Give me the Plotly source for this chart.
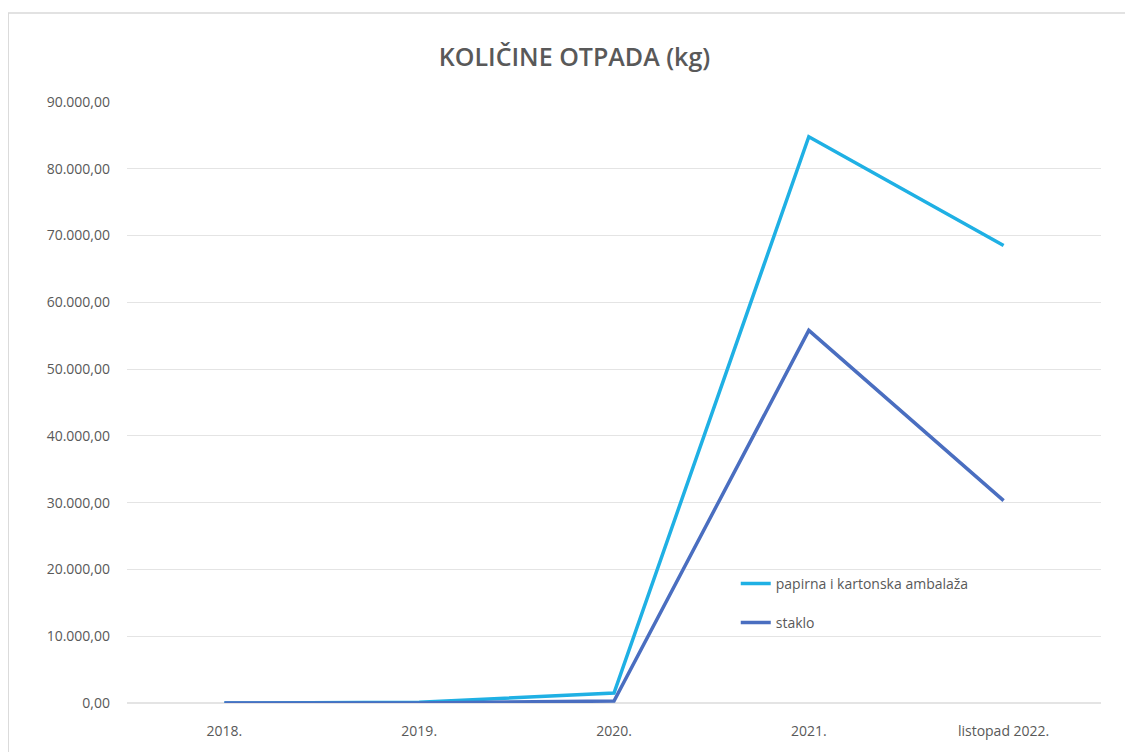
import plotly.graph_objects as go

categories = ["2018.", "2019.", "2020.", "2021.", "listopad 2022."]
papir = [0, 100, 1500, 84800, 68500]
staklo = [0, 0, 300, 55800, 30300]
y_ticks = [0, 10000, 20000, 30000, 40000, 50000, 60000, 70000, 80000, 90000]

fig = go.Figure()
fig.add_trace(go.Scatter(x=categories, y=papir, mode="lines", name="papirna i kartonska ambalaža",
                         line=dict(color="#1fb0e4", width=3.5), legendgroup="a"))
fig.add_trace(go.Scatter(x=categories, y=staklo, mode="lines", name="staklo",
                         line=dict(color="#4a6ec0", width=3.5), legendgroup="b"))

fig.update_layout(
    width=1133, height=752,
    margin=dict(l=119, r=40, t=94, b=57),
    paper_bgcolor="white", plot_bgcolor="white",
    separators=",.",
    title=dict(text="KOLIČINE OTPADA (kg)", x=0.5, xanchor="center", y=0.935, yanchor="middle",
               font=dict(family="Open Sans", size=25, color="#595959", weight=600)),
    font=dict(family="Open Sans", color="#595959"),
    xaxis=dict(type="category", range=[-0.5, 4.5], showgrid=False, showline=False, ticks="",
               tickfont=dict(size=14, color="#595959"), ticklabelstandoff=18),
    yaxis=dict(range=[0, 90000], tickvals=y_ticks, tickformat=",.2f", gridcolor="#e4e4e4",
               gridwidth=1, zeroline=True, zerolinecolor="#e4e4e4", showline=False,
               tickfont=dict(size=14, color="#595959"), ticklabelstandoff=16),
    legend=dict(x=0.625, y=0.225, xanchor="left", yanchor="top", bgcolor="rgba(0,0,0,0)",
                font=dict(size=14, color="#595959"), tracegroupgap=18, traceorder="grouped"),
    shapes=[dict(type="rect", xref="paper", yref="paper", x0=-0.122, x1=1.031, y0=-0.12, y1=1.148,
                 line=dict(color="#d9d9d9", width=1.5), fillcolor="rgba(0,0,0,0)", layer="below")],
)

fig.write_html("out.html")
